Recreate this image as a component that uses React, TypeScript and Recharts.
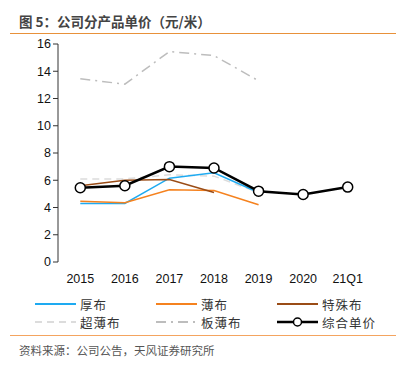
import { LineChart, Line, XAxis, YAxis } from "recharts";

const categories = ["2015", "2016", "2017", "2018", "2019", "2020", "21Q1"];
const thickCloth = [4.3, 4.3, 6.15, 6.55, 5.1, null, null];
const thinCloth = [4.45, 4.35, 5.3, 5.25, 4.2, null, null];
const specialCloth = [5.6, 6.0, 6.05, 5.1, null, null, null];
const ultraThinCloth = [6.1, 6.1, 6.4, 6.3, 5.1, null, null];
const plateThinCloth = [13.45, 13.05, 15.45, 15.15, 13.3, null, null];
const combinedPrice = [5.45, 5.6, 7.0, 6.9, 5.2, 4.95, 5.5];
const yTicks = [0, 2, 4, 6, 8, 10, 12, 14, 16];

const series = [
  { key: "ultra", name: "超薄布", color: "#dcdcdc", dash: "7 5", values: ultraThinCloth },
  { key: "plate", name: "板薄布", color: "#bdbdbd", dash: "10 5 2 5", values: plateThinCloth },
  { key: "thick", name: "厚布", color: "#1eaaf1", dash: undefined, values: thickCloth },
  { key: "thin", name: "薄布", color: "#f5821f", dash: undefined, values: thinCloth },
  { key: "special", name: "特殊布", color: "#9a4c16", dash: undefined, values: specialCloth },
];

// legend order as in the picture
const legendOrder = ["thick", "thin", "special", "ultra", "plate", "combined"];

const data = categories.map((c, i) => {
  const row: Record<string, number | string | null> = { cat: c, x: i + 0.5, combined: combinedPrice[i] };
  series.forEach((s) => (row[s.key] = s.values[i]));
  return row;
});

const font = "'Liberation Sans', Arial, sans-serif";
const cjk = "'Noto Sans CJK SC', sans-serif";

function LegendItem({ k }: { k: string }) {
  const s = series.find((d) => d.key === k);
  const isCombined = k === "combined";
  return (
    <div style={{ display: "flex", alignItems: "center", height: 18 }}>
      <svg width={46} height={12}>
        <line
          x1={1}
          x2={42}
          y1={6}
          y2={6}
          stroke={isCombined ? "#000" : s!.color}
          strokeWidth={isCombined ? 2.5 : 2}
          strokeDasharray={isCombined ? undefined : s!.dash}
        />
        {isCombined && <circle cx={21.5} cy={6} r={4} fill="#fff" stroke="#000" strokeWidth={1.5} />}
      </svg>
      <span style={{ fontFamily: cjk, fontSize: 12.5, color: "#333", letterSpacing: 1 }}>
        {isCombined ? "综合单价" : s!.name}
      </span>
    </div>
  );
}

export default function App() {
  return (
    <div style={{ position: "absolute", left: 0, top: 0, width: 400, height: 370, background: "#fff" }}>
      <div
        style={{
          position: "absolute",
          left: 19,
          top: 11,
          fontFamily: cjk,
          fontSize: 13.5,
          fontWeight: 700,
          color: "#444",
        }}
      >
        图 5：公司分产品单价（元/米）
      </div>
      <div style={{ position: "absolute", left: 10, top: 33, width: 386, height: 1, background: "#e8913a" }} />

      <div style={{ position: "absolute", left: 0, top: 0 }}>
        <LineChart width={400} height={292} data={data} margin={{ top: 44, right: 30, bottom: 0, left: 18 }}>
          <XAxis
            xAxisId="n"
            type="number"
            dataKey="x"
            domain={[0, 7]}
            ticks={[0, 1, 2, 3, 4, 5, 6, 7]}
            tick={false}
            height={0}
            tickSize={4}
            stroke="#333"
          />
          <XAxis
            xAxisId="lbl"
            type="number"
            dataKey="x"
            domain={[0, 7]}
            ticks={[0.5, 1.5, 2.5, 3.5, 4.5, 5.5, 6.5]}
            tickFormatter={(v: number) => categories[Math.floor(v)]}
            axisLine={false}
            tickLine={false}
            height={30}
            tickMargin={6}
            tick={{ fill: "#111", fontSize: 12.5, fontFamily: font }}
          />
          <YAxis
            domain={[0, 16]}
            ticks={yTicks}
            width={40}
            tickSize={5}
            stroke="#333"
            tick={{ fill: "#111", fontSize: 12.5, fontFamily: font }}
          />
          {series.map((s) => (
            <Line
              key={s.key}
              xAxisId="n"
              type="linear"
              dataKey={s.key}
              stroke={s.color}
              strokeWidth={1.5}
              strokeDasharray={s.dash}
              dot={false}
              isAnimationActive={false}
            />
          ))}
          <Line
            xAxisId="n"
            type="linear"
            dataKey="combined"
            stroke="#000"
            strokeWidth={2.5}
            dot={{ r: 5, fill: "#fff", stroke: "#000", strokeWidth: 1.5 }}
            isAnimationActive={false}
          />
        </LineChart>
      </div>

      <div
        style={{
          position: "absolute",
          left: 34,
          top: 295,
          display: "grid",
          gridTemplateColumns: "121px 121px 121px",
          rowGap: 0,
        }}
      >
        {legendOrder.map((k) => (
          <LegendItem key={k} k={k} />
        ))}
      </div>

      <div style={{ position: "absolute", left: 10, top: 335, width: 386, height: 1, background: "#f4a460" }} />
      <div
        style={{
          position: "absolute",
          left: 19,
          top: 342,
          fontFamily: cjk,
          fontSize: 11.5,
          color: "#555",
        }}
      >
        资料来源：公司公告，天风证券研究所
      </div>
    </div>
  );
}
